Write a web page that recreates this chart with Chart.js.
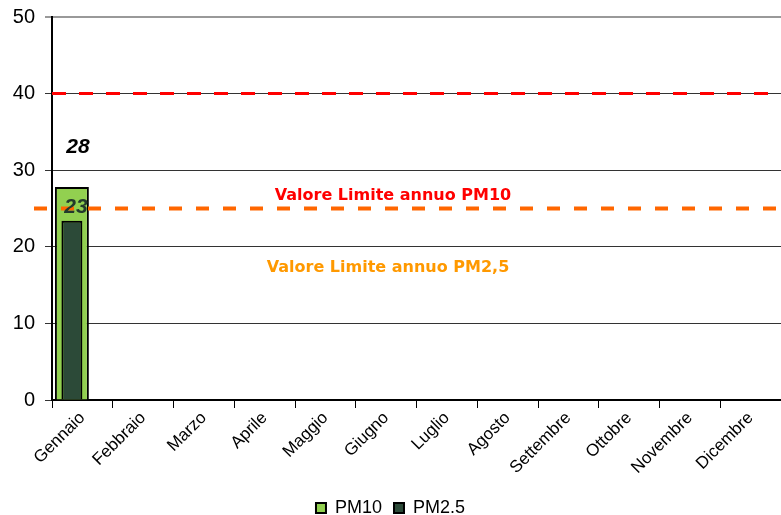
<!DOCTYPE html>
<html>
<head>
<meta charset="utf-8">
<script src="https://cdn.jsdelivr.net/npm/chart.js@4.4.0/dist/chart.umd.min.js"></script>
<style>
	html, body { margin: 0; padding: 0; background: #fff; overflow: hidden; }
	#wrap { width: 781px; height: 515px; }
</style>
</head>
<body>
<div id="wrap"><canvas id="myChart"></canvas></div>
<script>
const months = ['Gennaio', 'Febbraio', 'Marzo', 'Aprile', 'Maggio', 'Giugno', 'Luglio', 'Agosto', 'Settembre', 'Ottobre', 'Novembre', 'Dicembre'];
const pm10 = [27.8, null, null, null, null, null, null, null, null, null, null, null];
const pm25 = [23.4, null, null, null, null, null, null, null, null, null, null, null];
const limitPM10 = 40;
const limitPM25 = 25;
// serie vuota (valori 0) solo per spostare le barre a sinistra come in Excel
const spacer = [0, 0, 0, 0, 0, 0, 0, 0, 0, 0, 0, 0];

// linee limite + scritte
const limitsPlugin = {
	id: 'limits',
	afterDatasetsDraw(chart) {
		const ctx = chart.ctx;
		const area = chart.chartArea;
		const y = chart.scales.y;
		ctx.save();
		ctx.lineWidth = 3;
		ctx.strokeStyle = '#ff0000';
		ctx.setLineDash([14, 13]);
		ctx.beginPath();
		ctx.moveTo(area.left, y.getPixelForValue(limitPM10));
		ctx.lineTo(area.right, y.getPixelForValue(limitPM10));
		ctx.stroke();
		ctx.lineWidth = 4;
		ctx.strokeStyle = '#ff6600';
		ctx.setLineDash([13, 14]);
		ctx.beginPath();
		ctx.moveTo(area.left - 18, y.getPixelForValue(limitPM25));
		ctx.lineTo(area.right, y.getPixelForValue(limitPM25));
		ctx.stroke();
		ctx.setLineDash([]);
		ctx.font = 'bold 16px "DejaVu Sans"';
		ctx.textAlign = 'center';
		ctx.textBaseline = 'middle';
		ctx.fillStyle = '#ff0000';
		ctx.fillText('Valore Limite annuo PM10', 393, y.getPixelForValue(26.6));
		ctx.fillStyle = '#ff9900';
		ctx.fillText('Valore Limite annuo PM2,5', 388, y.getPixelForValue(17.2));

		// etichette valori
		ctx.font = 'italic bold 21px "Liberation Sans"';
		const m10 = chart.getDatasetMeta(1);
		const m25 = chart.getDatasetMeta(0);
		m10.data.forEach((el, i) => {
			if (pm10[i] == null) return;
			ctx.fillStyle = '#000';
			ctx.fillText(Math.round(pm10[i]), el.x + 6, el.y - 40);
		});
		m25.data.forEach((el, i) => {
			if (pm25[i] == null) return;
			ctx.fillStyle = '#233a2c';
			ctx.fillText(Math.round(pm25[i]), el.x + 4, el.y - 14);
		});
		ctx.restore();
	},
};

const createChart = function () {
	const data = {
		labels: months,
		datasets: [
			{
				label: 'PM2.5',
				data: pm25,
				stack: 'a',
				backgroundColor: '#2c4a38',
				borderColor: '#000',
				borderWidth: 2,
				categoryPercentage: 0.69,
				barPercentage: 1.0,
			},
			{
				label: 'PM10',
				data: pm10,
				stack: 'a',
				backgroundColor: '#92d050',
				borderColor: '#000',
				borderWidth: 2,
				categoryPercentage: 0.69,
				barPercentage: 1.62,
			},
			{
				label: '',
				data: spacer,
				stack: 'b',
				backgroundColor: 'rgba(0,0,0,0)',
				borderWidth: 0,
				categoryPercentage: 0.69,
				barPercentage: 1,
			},
		],
	};

	const config = {
		type: 'bar',
		data: data,
		plugins: [limitsPlugin],
		options: {
			responsive: false,
			animation: false,
			layout: { padding: { top: 17, right: 0, left: 0, bottom: -12 } },
			scales: {
				x: {
					offset: true,
					grid: { display: true, drawOnChartArea: false, drawTicks: true, tickLength: 8, color: '#000', offset: true },
					border: { display: true, color: '#000', width: 2 },
					ticks: {
						color: '#000',
						font: { family: 'Liberation Sans', size: 17 },
						minRotation: 45,
						maxRotation: 45,
						padding: 0,
					},
					afterFit: (s) => { s.height = 87; },
				},
				y: {
					min: 0,
					max: 50,
					stacked: false,
					ticks: {
						stepSize: 10,
						color: '#000',
						font: { family: 'Liberation Sans', size: 20 },
						padding: 10,
					},
					grid: {
						color: (c) => (c.tick && c.tick.value === 50 ? '#999' : '#333'),
						lineWidth: (c) => (c.tick && c.tick.value === 50 ? 2 : 1),
						tickLength: 7,
					},
					border: { display: true, color: '#000', width: 2 },
					afterFit: (s) => { s.width = 52; s.paddingTop = 0; },
				},
			},
			plugins: {
				legend: {
					position: 'bottom',
					labels: {
						color: '#000',
						boxWidth: 10,
						boxHeight: 10,
						padding: 12,
						font: { family: 'Liberation Sans', size: 18 },
						filter: (item) => item.text !== '',
						sort: (a, b) => b.datasetIndex - a.datasetIndex,
					},
				},
				tooltip: { enabled: false },
			},
		},
	};

	const canvas = document.getElementById('myChart');
	canvas.width = 781;
	canvas.height = 515;
	const myChart = new Chart(canvas, config);
};

document.addEventListener('DOMContentLoaded', createChart);
</script>
</body>
</html>
